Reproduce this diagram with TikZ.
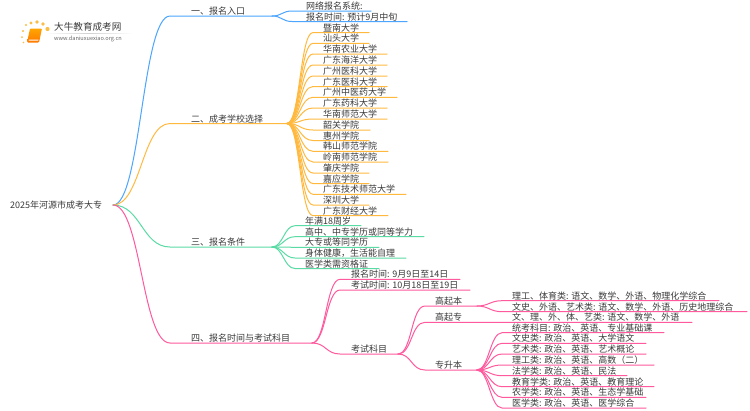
\documentclass[tikz,border=0pt]{standalone}
\usepackage{fontspec}
\setmainfont{Noto Sans CJK SC}
\usetikzlibrary{calc,shadings}
\definecolor{cblue}{HTML}{4CA5FF}
\definecolor{corange}{HTML}{FFB93F}
\definecolor{cgreen}{HTML}{5ADBA5}
\definecolor{cpink}{HTML}{FF5A9E}
\definecolor{ctext}{HTML}{3A3A3A}
\definecolor{csun}{HTML}{F9BE45}
\tikzset{
  lbl/.style={anchor=base west,inner sep=0pt,text=ctext,font=\fontsize{9}{9}\selectfont},
  link/.style={line width=1pt,line cap=round,line join=round},
  dot/.style={circle,fill=#1,draw=none,inner sep=0pt}
}
% name, parent, curve end x, text x, line y, line end x, colour, text
\newcommand{\leaf}[8]{%
  \coordinate (#1s) at (#3,#5);
  \coordinate (#1e) at (#6,#5);
  \node[lbl] (#1) at (#4,#5-1.5) {#8};
  \draw[link,#7] (#2) .. controls +(\hw,0) and +(-\hw,0) .. (#1s) -- (#1e);
}
\begin{document}
\begin{tikzpicture}[x=1pt,y=-1pt]
\useasboundingbox (0,0) rectangle (750,410);
\fill[white] (0,0) rectangle (750,410);
% logo
\foreach \i/\px/\py/\r in {a/26/25/1.2,b/31/23/1.6,c/37/22/1.8,d/43/24/1.9,e/47.5/29/2.1,f/23/31/1.1,g/22/37/1,h/23.5/42.5/.8}
  \node[dot=csun,minimum size=2*\r pt] (logo\i) at (\px,\py) {};
\shade[top color=orange!70!yellow,bottom color=orange!95!red,rounded corners=1pt] (30,28.5) -- (42,28.5) -- (39,42.5) -- (27,42.5) -- cycle;
\fill[white] (29,39.5) -- (38.5,39.5) -- (38.2,40.5) -- (28.7,40.5) -- cycle;
\shade[left color=white,right color=white,middle color=black!18] (45,33) rectangle (133,33.6);
\node[anchor=base west,inner sep=0pt,text=ctext,font=\fontsize{9.6}{9.6}\selectfont] (brand) at (54,30.5) {大牛教育成考网};
\node[anchor=base west,inner sep=0pt,text=black!60,font=\fontsize{5.6}{6}\selectfont] (url) at (54,40.3) {www.daniuxuexiao.org.cn};
% root
\node[lbl] (root) at (10,208) {2025年河源市成考大专};
\coordinate (rj) at (113,205);
\def\hw{28}
\leaf{a}{rj}{170}{191}{16}{272}{cblue}{一、报名入口}
\leaf{b}{rj}{170}{191}{123.5}{287}{corange}{二、成考学校选择}
\leaf{c}{rj}{170}{191}{247}{272}{cgreen}{三、报名条件}
\leaf{d}{rj}{170}{191}{343}{312}{cpink}{四、报名时间与考试科目}
% branch 1
\def\hw{10}
\leaf{a1}{ae}{292}{306}{11}{371}{cblue}{网络报名系统:}
\leaf{a2}{ae}{292}{306}{21.5}{407}{cblue}{报名时间: 预计9月中旬}
% branch 2
\def\hw{13}
\leaf{b01}{be}{313}{323}{32.5}{369}{corange}{暨南大学}
\leaf{b02}{be}{313}{323}{43.3}{369}{corange}{汕头大学}
\leaf{b03}{be}{313}{323}{54}{387}{corange}{华南农业大学}
\leaf{b04}{be}{313}{323}{65}{387}{corange}{广东海洋大学}
\leaf{b05}{be}{313}{323}{76}{387}{corange}{广州医科大学}
\leaf{b06}{be}{313}{323}{86.5}{387}{corange}{广东医科大学}
\leaf{b07}{be}{313}{323}{97.3}{397}{corange}{广州中医药大学}
\leaf{b08}{be}{313}{323}{108}{387}{corange}{广东药科大学}
\leaf{b09}{be}{313}{323}{119}{387}{corange}{华南师范大学}
\leaf{b10}{be}{313}{323}{130}{370}{corange}{韶关学院}
\leaf{b11}{be}{313}{323}{140.5}{369}{corange}{惠州学院}
\leaf{b12}{be}{313}{323}{151.3}{388}{corange}{韩山师范学院}
\leaf{b13}{be}{313}{323}{162}{388}{corange}{岭南师范学院}
\leaf{b14}{be}{313}{323}{173}{369}{corange}{肇庆学院}
\leaf{b15}{be}{313}{323}{183.5}{369}{corange}{嘉应学院}
\leaf{b16}{be}{313}{323}{194.3}{406}{corange}{广东技术师范大学}
\leaf{b17}{be}{313}{323}{205}{369}{corange}{深圳大学}
\leaf{b18}{be}{313}{323}{215.7}{388}{corange}{广东财经大学}
% branch 3
\def\hw{11}
\leaf{c1}{ce}{295}{305}{225.7}{361}{cgreen}{年满18周岁}
\leaf{c2}{ce}{295}{305}{236.7}{424}{cgreen}{高中、中专学历或同等学力}
\leaf{c3}{ce}{295}{305}{247.3}{379}{cgreen}{大专或等同学历}
\leaf{c4}{ce}{295}{305}{258}{406}{cgreen}{身体健康，生活能自理}
\leaf{c5}{ce}{295}{305}{268.5}{379}{cgreen}{医学类需资格证}
% branch 4
\def\hw{14}
\leaf{d1}{de}{340}{351}{279.3}{460}{cpink}{报名时间: 9月9日至14日}
\leaf{d2}{de}{340}{351}{290}{470}{cpink}{考试时间: 10月18日至19日}
\leaf{d3}{de}{340}{351}{354}{398}{cpink}{考试科目}
\leaf{e1}{d3e}{425}{435}{306}{477}{cpink}{高起本}
\leaf{e2}{d3e}{425}{435}{322.3}{692}{cpink}{高起专}
\leaf{e3}{d3e}{425}{435}{370}{477}{cpink}{专升本}
\node[lbl] (e2a) at (512,320.8) {文、理、外、体、艺类: 语文、数学、外语};
\def\hw{12}
\leaf{f1}{e1e}{502}{512}{300.7}{719}{cpink}{理工、体育类: 语文、数学、外语、物理化学综合}
\leaf{f2}{e1e}{502}{512}{311.7}{747}{cpink}{文史、外语、艺术类: 语文、数学、外语、历史地理综合}
\leaf{g1}{e3e}{502}{512}{332.7}{664}{cpink}{统考科目: 政治、英语、专业基础课}
\leaf{g2}{e3e}{502}{512}{343.3}{646}{cpink}{文史类: 政治、英语、大学语文}
\leaf{g3}{e3e}{502}{512}{354}{646}{cpink}{艺术类: 政治、英语、艺术概论}
\leaf{g4}{e3e}{502}{512}{365}{654}{cpink}{理工类: 政治、英语、高数（二）}
\leaf{g5}{e3e}{502}{512}{375.7}{627}{cpink}{法学类: 政治、英语、民法}
\leaf{g6}{e3e}{502}{512}{386.7}{654}{cpink}{教育学类: 政治、英语、教育理论}
\leaf{g7}{e3e}{502}{512}{397.3}{646}{cpink}{农学类: 政治、英语、生态学基础}
\leaf{g8}{e3e}{502}{512}{408}{646}{cpink}{医学类: 政治、英语、医学综合}
\end{tikzpicture}
\end{document}
